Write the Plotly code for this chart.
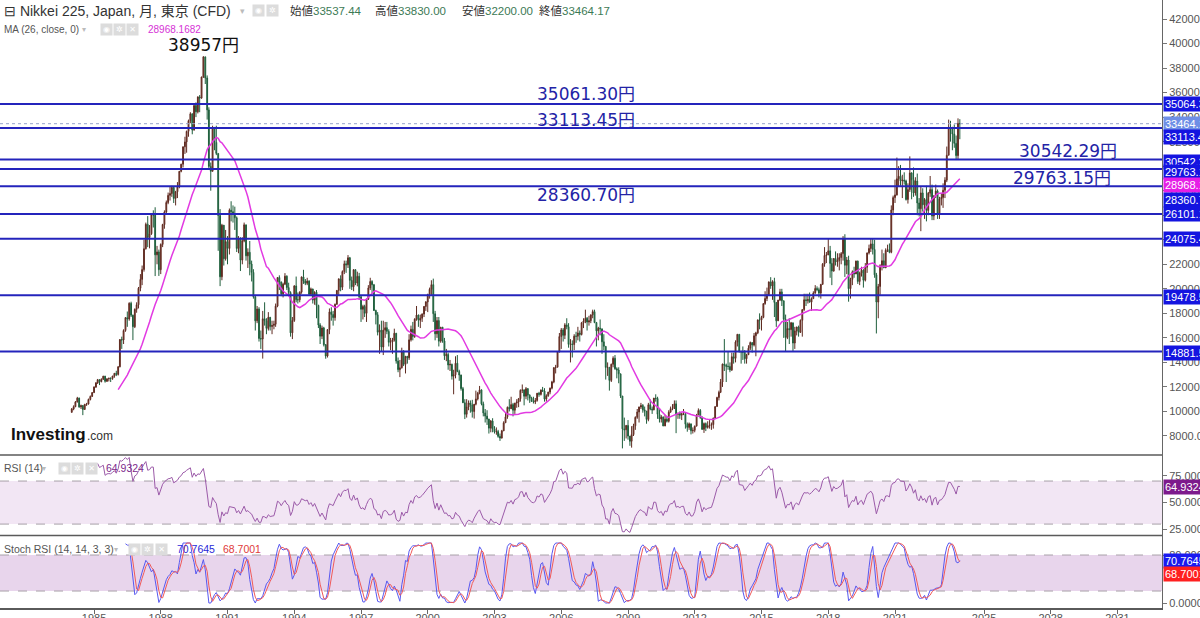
import pandas as pd
import plotly.graph_objects as go
from plotly.subplots import make_subplots

# Nikkei 225 monthly candles, Jan 1984 - Dec 2023
first_open = 9930

close_px = [
    10200, 10390, 10770, 11090, 10370, 10480, 10160, 10580, 10610, 10980, 11230, 11540,  # 1984
    11990, 12320, 12590, 12430, 12620, 12880, 12460, 12660, 12700, 12690, 12890, 13110,  # 1985
    13020, 13640, 15860, 15830, 16600, 17650, 17540, 18820, 17850, 16910, 18330, 18700,  # 1986
    20050, 20770, 21570, 23270, 25260, 24180, 24490, 26030, 26010, 22770, 23010, 21560,  # 1987
    23620, 25240, 26260, 27040, 27620, 27770, 28270, 27370, 27920, 28310, 29580, 30160,  # 1988
    31580, 31980, 32840, 33710, 34270, 32950, 34950, 34430, 35640, 35550, 37270, 38916,  # 1989
    37190, 34590, 29980, 29580, 33130, 31940, 31040, 25980, 20980, 25190, 22450, 23850,  # 1990
    23290, 26410, 26290, 26110, 25790, 23290, 24120, 22340, 23920, 25220, 22690, 22980,  # 1991
    22020, 21340, 19350, 17390, 18350, 15950, 15910, 17560, 17400, 16770, 17680, 16920,  # 1992
    17020, 17110, 18590, 20920, 20550, 19590, 20380, 21030, 20100, 19700, 16410, 17420,  # 1993
    20230, 19110, 19110, 19730, 20970, 20640, 20450, 20630, 19560, 19990, 19080, 19720,  # 1994
    18650, 17050, 16140, 16810, 15440, 14520, 16680, 18120, 17910, 17650, 18740, 19870,  # 1995
    20810, 20130, 21410, 22040, 21960, 22530, 20690, 20170, 21560, 20470, 21020, 19360,  # 1996
    18330, 18560, 18000, 19150, 20070, 20600, 20330, 18230, 17890, 16460, 16630, 15260,  # 1997
    16630, 16830, 16530, 15640, 15670, 15830, 16380, 14110, 13410, 13560, 14880, 13840,  # 1998
    14500, 14370, 15840, 16700, 16110, 17530, 17860, 17440, 17600, 17940, 18560, 18930,  # 1999
    19540, 19960, 20340, 17970, 16330, 17410, 15730, 16860, 15750, 14540, 14650, 13790,  # 2000
    13840, 12880, 12990, 13930, 13260, 12970, 11860, 10710, 9770, 10370, 10700, 10540,   # 2001
    9990, 10590, 11020, 11490, 11760, 10620, 9880, 9620, 9380, 8640, 9220, 8580,         # 2002
    8340, 8360, 7970, 7830, 8420, 9080, 9560, 10340, 10220, 10560, 10100, 10680,         # 2003
    10780, 11040, 11720, 11760, 11240, 11860, 11330, 11080, 10820, 10770, 10900, 11490,  # 2004
    11390, 11740, 11670, 11010, 11280, 11580, 11900, 12410, 13570, 13610, 14870, 16110,  # 2005
    16650, 16210, 17060, 16910, 15470, 15510, 15460, 16140, 16130, 16400, 16270, 17230,  # 2006
    17380, 17600, 17290, 17400, 17880, 18140, 17250, 16570, 16790, 16740, 15680, 15310,  # 2007
    13590, 13600, 12530, 13850, 14340, 13480, 13380, 13070, 11260, 8580, 8510, 8860,     # 2008
    7990, 7570, 8110, 8830, 9520, 9960, 10360, 10490, 10130, 10030, 9350, 10550,         # 2009
    10200, 10130, 11090, 11060, 9770, 9380, 9540, 8820, 9370, 9200, 9940, 10230,         # 2010
    10240, 10620, 9760, 9850, 9690, 9820, 9830, 8960, 8700, 8990, 8430, 8460,            # 2011
    8800, 9720, 10080, 9520, 8540, 9010, 8700, 8840, 8870, 8930, 9450, 10400,            # 2012
    11140, 11560, 12400, 13860, 13770, 13680, 13670, 13390, 14460, 14330, 15660, 16290,  # 2013
    14910, 14840, 14830, 14300, 14630, 15160, 15620, 15420, 16170, 16410, 17460, 17450,  # 2014
    17670, 18800, 19210, 19520, 20560, 20240, 20590, 18890, 17390, 19080, 19750, 19030,  # 2015
    17520, 16030, 16760, 16670, 17230, 15580, 16570, 16890, 16450, 17430, 18310, 19110,  # 2016
    19040, 19120, 18910, 19200, 19650, 20030, 19930, 19650, 20360, 22010, 22720, 22760,  # 2017
    23100, 22070, 21450, 22470, 22200, 22300, 22550, 22870, 24120, 21920, 22350, 20010,  # 2018
    20770, 21390, 21210, 22260, 20600, 21280, 21520, 20700, 21760, 22930, 23290, 23660,  # 2019
    23210, 21140, 18920, 20190, 21880, 22290, 21710, 23140, 23190, 22980, 26430, 27440,  # 2020
    27660, 28970, 29180, 28810, 28860, 28790, 27280, 28090, 29450, 28890, 27820, 28790,  # 2021
    27000, 26530, 27820, 26850, 27280, 26390, 27800, 28090, 25940, 27590, 27970, 26090,  # 2022
    27330, 27450, 28040, 28860, 30890, 33190, 33170, 32620, 31860, 30860, 33490, 33464,  # 2023
]

high_px = [
    10280, 10500, 10850, 11190, 11130, 10560, 10520, 10620, 10700, 11050, 11300, 11580,
    12050, 12400, 12650, 12620, 12700, 12900, 12900, 12700, 12760, 12780, 12900, 13130,
    13320, 13700, 15900, 16100, 16700, 17700, 18150, 18900, 18950, 17900, 18400, 18900,
    20150, 21200, 21900, 24000, 25400, 25930, 25200, 26100, 26400, 26650, 23500, 23200,
    23700, 25300, 26400, 27200, 27850, 28300, 28400, 28350, 27990, 28700, 29600, 30200,
    31600, 32400, 32900, 33800, 34400, 34300, 34960, 35200, 35700, 35800, 37300, 38957,
    38710, 37400, 34800, 30300, 33300, 33200, 33300, 30800, 26500, 25300, 25200, 24800,
    24300, 26550, 27140, 26800, 26700, 25900, 24300, 24200, 24200, 25400, 25200, 23300,
    23900, 22300, 21600, 19500, 18600, 18500, 16600, 18200, 18900, 17600, 18100, 17700,
    17400, 17400, 18800, 20950, 21100, 20600, 20500, 21280, 21100, 20500, 19800, 17700,
    20300, 21000, 19700, 19800, 21000, 21550, 20800, 20900, 20700, 20100, 20000, 19800,
    19900, 18700, 17200, 17000, 16900, 15500, 16700, 18400, 18500, 18200, 18800, 19900,
    20850, 21100, 21500, 22300, 22300, 22750, 22600, 21000, 21600, 21600, 21400, 21300,
    19400, 18700, 18700, 19200, 20300, 20900, 20700, 20400, 18300, 18100, 17100, 17400,
    17400, 17300, 17300, 16700, 16000, 16000, 16750, 16400, 14400, 14200, 15200, 15000,
    14500, 14500, 16300, 17000, 17300, 17600, 18600, 17900, 17900, 18000, 18600, 19000,
    19600, 20100, 20700, 20830, 18200, 17700, 17700, 16900, 16900, 16000, 15100, 14800,
    14200, 13900, 13400, 14500, 14600, 13400, 13000, 12000, 11000, 11000, 10900, 10900,
    10950, 10600, 11700, 11600, 12080, 11800, 10800, 10200, 10100, 9400, 9300, 9450,
    8800, 8700, 8500, 8200, 8500, 9200, 9900, 10400, 11000, 11200, 10700, 10700,
    11000, 11100, 11800, 12200, 11800, 11990, 11900, 11400, 11200, 11200, 11100, 11500,
    11600, 11800, 12000, 11900, 11400, 11600, 11950, 12500, 13600, 13800, 14900, 16400,
    16800, 16800, 17200, 17600, 17200, 15900, 15800, 16300, 16500, 16900, 16600, 17300,
    17600, 18300, 17700, 17800, 17900, 18300, 18300, 17300, 16900, 17500, 16700, 16300,
    15200, 14000, 13600, 13900, 14500, 14600, 13600, 13600, 12900, 11000, 9500, 8900,
    9300, 8000, 8800, 9000, 9600, 10200, 10400, 10700, 10600, 10400, 10000, 10700,
    10980, 10400, 11100, 11400, 11200, 10200, 9700, 9600, 9700, 9600, 10100, 10400,
    10600, 10900, 10900, 9900, 10000, 9900, 10200, 9800, 9100, 9100, 9000, 8700,
    8850, 9800, 10250, 10200, 9600, 9100, 9100, 9200, 9300, 9100, 9500, 10400,
    11200, 11700, 12650, 13900, 15900, 13900, 14900, 14000, 14800, 14800, 15800, 16320,
    16200, 14900, 15300, 15000, 14700, 15400, 15700, 15600, 16400, 16500, 17500, 18000,
    17800, 18800, 19800, 20100, 20600, 20950, 20700, 20900, 18900, 19100, 20000, 20000,
    18900, 17900, 17300, 17600, 17300, 17000, 16900, 16900, 17000, 17500, 18300, 19600,
    19600, 19600, 19700, 19300, 19800, 20300, 20200, 20100, 20400, 22100, 23400, 23000,
    24130, 23500, 22500, 22500, 23050, 22900, 22900, 23000, 24300, 24450, 22600, 22700,
    20900, 21500, 21800, 22300, 22300, 21400, 21800, 21600, 22100, 22950, 23600, 24100,
    24100, 24000, 21300, 20400, 22000, 23200, 22900, 23300, 23600, 23700, 26800, 27600,
    28900, 30700, 30000, 30100, 29300, 29500, 28900, 28600, 30800, 29500, 29900, 29100,
    29400, 27400, 28300, 28200, 27400, 28400, 27900, 29200, 28500, 27600, 28500, 28100,
    27500, 27800, 28600, 29100, 31600, 33800, 33700, 33200, 33400, 32500, 33900, 33830,
]

low_px = [
    9900, 10100, 10350, 10740, 10300, 10200, 9700, 10150, 10450, 10560, 10900, 11180,
    11500, 11920, 12250, 12150, 12380, 12580, 12350, 12400, 12450, 12400, 12580, 12750,
    12880, 12930, 13600, 15100, 15500, 16500, 16900, 17400, 17700, 15820, 16800, 18050,
    18400, 19800, 20300, 21400, 23200, 23400, 23300, 24400, 25000, 21040, 22000, 21050,
    21200, 23400, 24900, 26100, 26900, 27200, 27500, 27000, 26800, 27400, 28200, 29500,
    29900, 31000, 31100, 32400, 33500, 32600, 32900, 34000, 34300, 34400, 35500, 37200,
    36700, 33800, 29800, 28000, 29600, 31300, 30900, 23100, 20220, 20700, 21900, 22300,
    22000, 22800, 25500, 25400, 24800, 23000, 22900, 21450, 22000, 23800, 22300, 21700,
    21100, 20600, 19200, 16600, 17200, 15700, 15100, 14310, 17000, 16300, 16600, 16600,
    16300, 16700, 16900, 18500, 19900, 19400, 19300, 20300, 19900, 19400, 16100, 15900,
    17300, 18900, 18800, 18900, 19600, 20400, 20300, 20300, 19500, 19500, 18800, 18700,
    17600, 16800, 15500, 15900, 15300, 14300, 14400, 16300, 17400, 17000, 17400, 18700,
    19500, 19800, 19900, 21200, 21300, 21700, 20000, 19900, 19800, 20300, 20200, 19100,
    17300, 17500, 17700, 17300, 19100, 19900, 19600, 18200, 17100, 16200, 14700, 14900,
    14600, 16000, 16300, 15300, 15000, 14700, 15700, 13900, 13200, 12800, 13500, 13700,
    13100, 13900, 14200, 15700, 15800, 16000, 17400, 16900, 16800, 17300, 17700, 18200,
    18100, 19200, 19500, 17300, 15800, 16000, 15300, 15600, 15600, 14200, 14100, 13400,
    13300, 12600, 11400, 12700, 13200, 12500, 11700, 10700, 9380, 9500, 10100, 9900,
    9500, 9420, 10500, 10900, 11400, 10500, 9600, 9100, 8900, 8200, 8300, 8300,
    8200, 8100, 7860, 7600, 7800, 8400, 9200, 9400, 10000, 10200, 9600, 9800,
    10300, 10350, 10800, 11500, 10500, 11000, 10900, 10700, 10800, 10650, 10600, 10800,
    11200, 11300, 11600, 10800, 10800, 11200, 11400, 11800, 12300, 13100, 13600, 14800,
    15100, 15700, 15900, 16700, 15200, 14000, 14400, 15000, 15600, 15800, 15700, 16200,
    16800, 17200, 16600, 17000, 17200, 17600, 17200, 15300, 15800, 16200, 14700, 15000,
    12600, 12900, 11700, 12400, 13600, 13400, 12700, 12300, 11100, 6990, 7600, 7800,
    7700, 7200, 7050, 8000, 8500, 9400, 9100, 10200, 9900, 9600, 9000, 9200,
    10100, 9800, 10100, 10800, 9400, 9100, 9100, 8800, 8800, 9100, 9100, 9900,
    10100, 10200, 8230, 9400, 9400, 9300, 9700, 8600, 8350, 8500, 8130, 8200,
    8300, 8800, 9700, 9400, 8500, 8250, 8400, 8600, 8600, 8500, 8600, 9400,
    10400, 10900, 11500, 12000, 13300, 12400, 13400, 13200, 13300, 13900, 14000, 15300,
    14800, 13900, 14200, 13900, 13900, 14600, 15000, 14800, 15300, 14500, 16300, 16700,
    16600, 17600, 18700, 19000, 19500, 20000, 19100, 17700, 16900, 17500, 19000, 18600,
    16000, 14900, 15900, 15500, 16100, 14900, 15100, 16200, 16100, 16400, 16100, 18200,
    18600, 18800, 18900, 18200, 19200, 19600, 19800, 19300, 19200, 20400, 21800, 22100,
    22800, 20900, 20300, 21400, 21900, 21800, 21500, 22000, 22300, 20970, 21200, 18950,
    19200, 20300, 20900, 21300, 20400, 20300, 21000, 20100, 20600, 21300, 22800, 23000,
    22800, 20900, 16360, 17600, 19500, 21500, 21700, 21800, 23000, 22900, 22900, 26000,
    27000, 27600, 28300, 28400, 27400, 28500, 27200, 26950, 27900, 27300, 27500, 27600,
    26000, 25900, 24700, 26300, 25700, 25500, 26000, 27500, 25600, 25600, 27400, 25700,
    25700, 26800, 26600, 27400, 28700, 30900, 32000, 31300, 31500, 30500, 30500, 32200,
]

# support / resistance levels drawn on the chart
level_prices = [35061.30, 33113.45, 30542.29, 29763.15, 28360.70, 26101.10, 24075.40, 19478.50, 14881.50]
last_close = 33464.17
ma_last = 28968.1682
rsi_last = 64.9324
stoch_k_last = 70.7645
stoch_d_last = 68.7001

year_ticks = [1985, 1988, 1991, 1994, 1997, 2000, 2003, 2006, 2009, 2012, 2015, 2018, 2021, 2025, 2028, 2031]

# ---- build series ----
dates = pd.date_range("1984-01-01", periods=len(close_px), freq="MS")
close_s = pd.Series(close_px, index=dates, dtype=float)
open_s = close_s.shift(1)
open_s.iloc[0] = first_open
high_s = pd.concat([pd.Series(high_px, index=dates, dtype=float), open_s, close_s], axis=1).max(axis=1)
low_s = pd.concat([pd.Series(low_px, index=dates, dtype=float), open_s, close_s], axis=1).min(axis=1)

ma26 = close_s.rolling(26).mean()

# RSI 14 (Wilder) and Stoch RSI (14, 14, 3, 3)
delta = close_s.diff()
gain = delta.clip(lower=0)
loss = -delta.clip(upper=0)
avg_gain = gain.ewm(alpha=1 / 14, adjust=False, min_periods=14).mean()
avg_loss = loss.ewm(alpha=1 / 14, adjust=False, min_periods=14).mean()
rsi = 100 - 100 / (1 + avg_gain / avg_loss)
rsi_lo = rsi.rolling(14).min()
rsi_hi = rsi.rolling(14).max()
stoch = (rsi - rsi_lo) / (rsi_hi - rsi_lo) * 100
stoch_k = stoch.rolling(3).mean()
stoch_d = stoch_k.rolling(3).mean()

# ---- figure ----
FONT = "Liberation Sans, Noto Sans CJK JP, sans-serif"
BIG_FONT = "DejaVu Sans, Noto Sans CJK JP, sans-serif"
PLOT_W, PLOT_H = 1162, 608


def px(x):
    return x / PLOT_W


def py(y):
    return (PLOT_H - y) / PLOT_H


fig = make_subplots(rows=3, cols=1, shared_xaxes=True, vertical_spacing=0)

fig.add_trace(go.Candlestick(
    x=dates, open=open_s, high=high_s, low=low_s, close=close_s,
    increasing=dict(line=dict(color="#5e2a20", width=1), fillcolor="#a5483a"),
    decreasing=dict(line=dict(color="#1f5e3c", width=1), fillcolor="#3e9a69"),
    whiskerwidth=0, hoverinfo="skip",
), row=1, col=1)

fig.add_trace(go.Scatter(x=dates, y=ma26, mode="lines",
                         line=dict(color="#e23ae2", width=1.5), hoverinfo="skip"), row=1, col=1)

fig.add_trace(go.Scatter(x=dates, y=rsi, mode="lines",
                         line=dict(color="#9b5aa8", width=1), hoverinfo="skip"), row=2, col=1)

fig.add_trace(go.Scatter(x=dates, y=stoch_k, mode="lines",
                         line=dict(color="#5858f0", width=1), hoverinfo="skip"), row=3, col=1)
fig.add_trace(go.Scatter(x=dates, y=stoch_d, mode="lines",
                         line=dict(color="#f05a5a", width=1), hoverinfo="skip"), row=3, col=1)

shapes = []
# indicator bands
shapes.append(dict(type="rect", xref="paper", yref="y2", x0=0, x1=1, y0=30, y1=70,
                   fillcolor="#f2e6f4", line=dict(width=0), layer="below"))
shapes.append(dict(type="rect", xref="paper", yref="y3", x0=0, x1=1, y0=20, y1=80,
                   fillcolor="#e8d5ec", line=dict(width=0), layer="below"))
for yref, v in [("y2", 30), ("y2", 70), ("y3", 20), ("y3", 80)]:
    shapes.append(dict(type="line", xref="paper", yref=yref, x0=0, x1=1, y0=v, y1=v,
                       line=dict(color="#a8a0a8", width=1, dash="dash"), layer="below"))

# horizontal levels
for v in level_prices:
    shapes.append(dict(type="line", xref="paper", yref="y", x0=0, x1=1, y0=v, y1=v,
                       line=dict(color="#2424bc", width=2)))
shapes.append(dict(type="line", xref="paper", yref="y", x0=0, x1=1, y0=last_close, y1=last_close,
                   line=dict(color="#97a3c9", width=1, dash="dot")))

# pane separators
for ysep in [455, 535.5]:
    shapes.append(dict(type="line", xref="paper", yref="paper", x0=0, x1=1,
                       y0=py(ysep), y1=py(ysep), line=dict(color="#5a5a5a", width=1.5)))

ann = []


def text(x, y, s, size, color, anchor="left", family=FONT):
    ann.append(dict(xref="paper", yref="paper", x=px(x), y=py(y), text=s, showarrow=False,
                    xanchor=anchor, yanchor="middle", font=dict(family=family, size=size, color=color)))


def icons(xs, y, glyphs):
    for x, g in zip(xs, glyphs):
        ann.append(dict(xref="paper", yref="paper", x=px(x), y=py(y), text=g, showarrow=False,
                        xanchor="center", yanchor="middle", width=11, height=11,
                        bgcolor="#dcdcdc", borderpad=0,
                        font=dict(family=BIG_FONT, size=8, color="#ffffff")))


# header rows
text(2, 11, "⊟ Nikkei 225, Japan, 月, 東京 (CFD)", 14, "#333333")
text(242, 11, "▾", 9, "#bbbbbb", "center", BIG_FONT)
icons([258, 272], 11, ["◉", "✲"])
val_col = "#3c7a55"
for x, lab, val in [(288, "始値", "33537.44"), (373, "高値", "33830.00"),
                    (460, "安値", "32200.00"), (537, "終値", "33464.17")]:
    text(x, 11, f"{lab}<span style='color:{val_col}'>{val}</span>", 11.5, "#333333")

text(2, 29, "MA (26, close, 0)", 10, "#555555")
text(84, 29, "▾", 8, "#bbbbbb", "center", BIG_FONT)
icons([106, 119, 132], 29, ["◉", "✲", "✕"])
text(146, 29, f"{ma_last:.4f}", 10, "#d633d6")

text(2, 468, "RSI (14)", 10.5, "#555555")
text(44, 468, "▾", 8, "#bbbbbb", "center", BIG_FONT)
icons([64, 77, 91], 468, ["◉", "✲", "✕"])
text(104, 468, f"{rsi_last:.4f}", 10.5, "#7d2a8c")

text(2, 549, "Stoch RSI (14, 14, 3, 3)", 10.5, "#555555")
text(116, 549, "▾", 8, "#bbbbbb", "center", BIG_FONT)
icons([134, 147, 161], 549, ["◉", "✲", "✕"])
text(175, 549, f"{stoch_k_last:.4f}", 10.5, "#2a2ad8")
text(221, 549, f"{stoch_d_last:.4f}", 10.5, "#e03a3a")

# chart labels
text(203, 45, "38957円", 17, "#111111", "center", BIG_FONT)
blue_txt = "#2323a6"
text(586, 94, "35061.30円", 17, blue_txt, "center", BIG_FONT)
text(586, 120, "33113.45円", 17, blue_txt, "center", BIG_FONT)
text(586, 195, "28360.70円", 17, blue_txt, "center", BIG_FONT)
text(1068, 151, "30542.29円", 17, blue_txt, "center", BIG_FONT)
text(1062, 178, "29763.15円", 17, blue_txt, "center", BIG_FONT)

# watermark
text(9, 434, "<b>Investing</b>", 17, "#111111")
text(85, 436, ".com", 12, "#333333")

# price tags on the right axis
tag_blue = "#1414e0"
tags = [
    ("y", 35064.3, "35064.30", tag_blue, 0),
    ("y", last_close, f"{last_close:.2f}", "#6f8fe6", 0),
    ("y", 33113.45, "33113.45", tag_blue, -9),
    ("y", 30542.29, "30542.29", tag_blue, -2),
    ("y", 29763.15, "29763.15", tag_blue, -3),
    ("y", ma_last, f"{ma_last:.2f}", "#e61ee6", -6),
    ("y", 28360.70, "28360.70", tag_blue, -14),
    ("y", 26101.10, "26101.10", tag_blue, 0),
    ("y", 24075.40, "24075.40", tag_blue, 0),
    ("y", 19478.50, "19478.50", tag_blue, -2),
    ("y", 14881.50, "14881.50", tag_blue, -1),
    ("y2", rsi_last, f"{rsi_last:.4f}", "#7d1a8c", 0),
    ("y3", stoch_k_last, f"{stoch_k_last:.4f}", "#1a1af0", 0),
    ("y3", stoch_d_last, f"{stoch_d_last:.4f}", "#ff2020", -12),
]
for yref, v, s, col, shift in tags:
    ann.append(dict(xref="paper", yref=yref, x=1, y=v, text=s, showarrow=False,
                    xanchor="left", yanchor="middle", xshift=1, yshift=shift,
                    bgcolor=col, borderpad=1, height=12,
                    font=dict(family=FONT, size=11, color="#ffffff")))

fig.update_layout(
    width=1200, height=618,
    margin=dict(l=0, r=38, t=0, b=10),
    paper_bgcolor="white", plot_bgcolor="white",
    showlegend=False, hovermode=False,
    font=dict(family=FONT, size=11, color="#555555"),
    shapes=shapes, annotations=ann,
)

x_range = ["1980-10-10", "2033-01-01"]
axis_common = dict(showgrid=False, zeroline=False, range=x_range, rangeslider_visible=False,
                   automargin=False)
fig.update_xaxes(**axis_common, showticklabels=False, ticks="")
fig.update_xaxes(row=3, col=1, showticklabels=True, ticks="outside", ticklen=4, tickcolor="#666666",
                 tickvals=[f"{y}-01-01" for y in year_ticks], ticktext=[str(y) for y in year_ticks],
                 tickfont=dict(size=11, color="#555555"),
                 showline=True, linecolor="#5a5a5a", linewidth=1.5)
# pull the year labels up so they sit half-visible at the window bottom, as in the source
try:
    fig.update_xaxes(row=3, col=1, ticklabelstandoff=-5)
except ValueError:
    fig.update_xaxes(row=3, col=1, ticks="inside")

y_common = dict(side="right", showgrid=False, zeroline=False, ticks="outside", ticklen=4,
                tickcolor="#777777", tickfont=dict(size=11, color="#555555"), automargin=False,
                showline=True, linecolor="#666666", linewidth=1)
fig.update_layout(
    yaxis=dict(**y_common, domain=[py(455), 1], range=[6450, 43550],
               tickvals=list(range(8000, 42001, 2000)), tickformat=".2f"),
    yaxis2=dict(**y_common, domain=[py(535.5), py(455)], range=[19.4, 94.2],
                tickvals=[25, 50, 75], tickformat=".4f"),
    yaxis3=dict(**y_common, domain=[0, py(536)], range=[-8.3, 111.7],
                tickvals=[0, 80], tickformat=".4f"),
)

# the page body has a default 8px margin; drop it so the chart sits at the window corner
fig.write_html("out.html", config={"displayModeBar": False},
               post_script="document.body.style.margin='0';")
